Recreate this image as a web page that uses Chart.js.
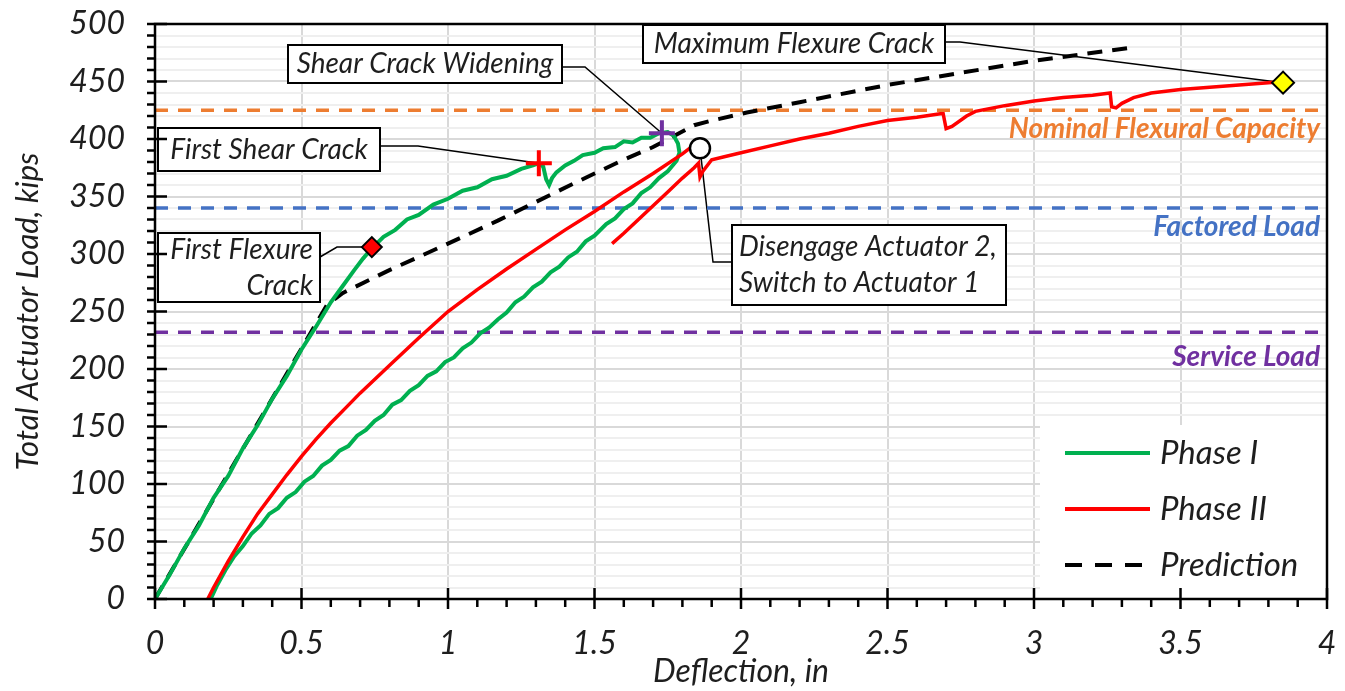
<!DOCTYPE html>
<html>
<head>
<meta charset="utf-8">
<script src="https://cdn.jsdelivr.net/npm/chart.js@4.4.1/dist/chart.umd.min.js"></script>
<style>
  html, body { margin: 0; padding: 0; background: #fff; }
</style>
</head>
<body>
<canvas id="load-deflection" width="1345" height="691"></canvas>
<script>
// measured curves: [deflection (in), total actuator load (kips)]
const phaseI = [
  [0,0],[0.05,21],[0.1,44],[0.15,64],[0.2,88],[0.25,107],[0.3,131],[0.35,151],[0.4,174],[0.45,194],
  [0.5,217],[0.55,237],[0.6,258],[0.64,272],[0.68,286],[0.71,296],[0.74,305],[0.78,315],[0.82,321],
  [0.86,330],[0.9,334],[0.95,343],[1.0,348],[1.05,355],[1.1,358],[1.15,365],[1.2,368],[1.25,374],
  [1.29,377],[1.31,379],[1.325,376],[1.335,365],[1.345,360],[1.355,366],[1.37,371],[1.4,377],
  [1.43,381],[1.46,386],[1.5,388],[1.53,392],[1.57,393],[1.6,398],[1.63,397],[1.66,401],[1.69,401],
  [1.72,405],[1.75,406],[1.77,403],[1.785,396],[1.79,388],[1.78,381],
  [1.75,372],[1.72,366],[1.69,358],[1.66,353],[1.63,344],[1.6,339],[1.57,331],[1.54,326],[1.5,316],
  [1.47,311],[1.44,302],[1.41,297],[1.38,289],[1.35,284],[1.32,276],[1.29,271],[1.26,263],[1.23,258],
  [1.2,249],[1.17,243],[1.14,236],[1.11,231],[1.08,223],[1.05,218],[1.02,210],[0.99,206],[0.96,198],
  [0.93,194],[0.9,186],[0.87,181],[0.84,173],[0.81,169],[0.78,160],[0.75,155],[0.72,147],[0.69,142],
  [0.66,133],[0.63,129],[0.6,121],[0.57,116],[0.54,107],[0.51,102],[0.48,93],[0.45,88],[0.42,79],
  [0.39,74],[0.36,64],[0.33,57],[0.3,46],[0.27,37],[0.24,25],[0.21,11],[0.19,0]
];

// null point = actuator switch, the line breaks there
const phaseII = [
  [0.18,0],[0.2,10],[0.25,33],[0.3,54],[0.35,74],[0.4,91],[0.45,108],[0.5,124],[0.55,139],[0.6,153],
  [0.65,166],[0.7,179],[0.8,203],[0.9,227],[1.0,250],[1.1,269],[1.2,287],[1.3,304],[1.4,321],
  [1.5,337],[1.6,354],[1.7,370],[1.8,387],[1.83,393],
  [1.7,null],
  [1.56,309],[1.6,318],[1.65,330],[1.7,342],[1.75,354],[1.8,366],[1.84,375],[1.855,379],[1.86,367],
  [1.87,372],[1.9,382],[1.95,385],[2.0,388],[2.1,394],[2.2,400],[2.3,405],[2.4,411],[2.5,416],
  [2.6,419],[2.68,422],[2.69,422],[2.7,409],[2.72,411],[2.77,420],[2.8,424],[2.9,429],[3.0,433],
  [3.1,436],[3.2,438],[3.26,440],[3.265,428],[3.28,427],[3.3,431],[3.34,436],[3.4,440],[3.5,443],
  [3.6,445],[3.7,447],[3.8,449],[3.85,450]
];

const prediction = [
  [0,0],[0.59,257],[0.62,262],[0.64,266],[0.8,286],[1.0,309],[1.17,329],[1.37,354],[1.5,370],
  [1.6,382],[1.7,393],[1.84,412],[1.9,416],[2.02,423],[2.2,432],[2.5,447],[2.88,463],[3.0,468],[3.32,479]
];

const refNames = ['Nominal Flexural Capacity', 'Factored Load', 'Service Load'];
const refLoads = [425, 340, 232];
const refRange = [0, 3.98];

const eventNames = ['First Flexure Crack', 'First Shear Crack', 'Shear Crack Widening',
  'Disengage Actuator 2, Switch to Actuator 1', 'Maximum Flexure Crack'];
const eventDefl = [0.74, 1.31, 1.73, 1.86, 3.85];
const eventLoad = [306, 379, 405, 392, 449];

const xTicks = { min: 0, max: 4, step: 0.1, labelEvery: 0.5 };
const yTicks = { min: 0, max: 500, step: 10, labelEvery: 50 };

const legendSeries = ['Phase I', 'Phase II', 'Prediction'];

// ---- styles / layout -------------------------------------------------
const toXY = arr => arr.map(p => ({ x: p[0], y: p[1] }));
const refColors = ['#ED7D31', '#4472C4', '#7030A0'];
const refLabelOffset = [19, 19, 25];
const txt = '#1e1e1e';
const italic = size => ({ family: 'Lato', style: 'italic', size: size });

const markerStyles = [
  { pointStyle: 'rectRot', radius: 10, bg: '#FF0000', border: '#000', bw: 2 },
  { pointStyle: 'cross', radius: 13, bg: '#FF0000', border: '#FF0000', bw: 4 },
  { pointStyle: 'cross', radius: 13, bg: '#7030A0', border: '#7030A0', bw: 4 },
  { pointStyle: 'circle', radius: 10, bg: '#fff', border: '#000', bw: 2.5 },
  { pointStyle: 'rectRot', radius: 11, bg: '#FFFF00', border: '#000', bw: 2 }
];

// callout boxes (pixels), leader goes from the box through the elbows to the event marker
const callouts = [
  { ev: 0, lines: ['First Flexure', 'Crack'], box: [158, 233, 320, 302], align: 'right', path: [[320, 257], [337, 247]] },
  { ev: 1, lines: ['First Shear Crack'], box: [158, 128, 380, 171], align: 'center', path: [[380, 146], [418, 146]] },
  { ev: 2, lines: ['Shear Crack Widening'], box: [288, 45, 562, 83], align: 'center', path: [[562, 67], [585, 67]] },
  { ev: 3, lines: ['Disengage Actuator 2,', 'Switch to Actuator 1'], box: [732, 225, 1006, 305], align: 'left', path: [[732, 262], [713, 262]] },
  { ev: 4, lines: ['Maximum Flexure Crack'], box: [643, 25, 945, 63], align: 'center', path: [[945, 42], [960, 42]] }
];

const datasets = [];

eventNames.forEach((name, i) => {
  const s = markerStyles[i];
  datasets.push({
    label: name, data: [{ x: eventDefl[i], y: eventLoad[i] }], showLine: false, order: 0,
    pointStyle: s.pointStyle, pointRadius: s.radius, pointBackgroundColor: s.bg,
    pointBorderColor: s.border, pointBorderWidth: s.bw
  });
});

datasets.push({ label: 'Phase I', data: toXY(phaseI), borderColor: '#00B050', borderWidth: 4, order: 2 });
datasets.push({ label: 'Phase II', data: toXY(phaseII), borderColor: '#FF0000', borderWidth: 3.5, order: 1, spanGaps: false });
datasets.push({ label: 'Prediction', data: toXY(prediction), borderColor: '#000', borderWidth: 4, borderDash: [15, 10], order: 3 });

refNames.forEach((name, i) => {
  datasets.push({
    label: name, data: refRange.map(x => ({ x: x, y: refLoads[i] })),
    borderColor: refColors[i], borderWidth: 3.5, borderDash: [13, 10], order: 10
  });
});

const decor = {
  id: 'decor',
  beforeDraw(chart) {
    const c = chart.ctx;
    c.save();
    c.fillStyle = '#fff';
    c.fillRect(0, 0, chart.width, chart.height);
    c.restore();
  },
  beforeDatasetsDraw(chart) {
    const c = chart.ctx, xs = chart.scales.x, ys = chart.scales.y;
    c.save();
    c.strokeStyle = '#000';
    c.lineWidth = 1.5;
    callouts.forEach(co => {
      c.beginPath();
      c.moveTo(co.path[0][0], co.path[0][1]);
      co.path.slice(1).forEach(p => c.lineTo(p[0], p[1]));
      c.lineTo(xs.getPixelForValue(eventDefl[co.ev]), ys.getPixelForValue(eventLoad[co.ev]));
      c.stroke();
    });
    c.restore();
  },
  afterDatasetsDraw(chart) {
    const c = chart.ctx, ys = chart.scales.y, area = chart.chartArea;
    c.save();

    // reference line labels
    c.font = 'italic bold 28px Lato';
    c.textAlign = 'right';
    c.textBaseline = 'middle';
    refNames.forEach((name, i) => {
      c.fillStyle = refColors[i];
      c.fillText(name, area.right - 7, ys.getPixelForValue(refLoads[i]) + refLabelOffset[i]);
    });

    // callout boxes
    c.font = 'italic 28px Lato';
    callouts.forEach(co => {
      const [l, t, r, b] = co.box;
      c.fillStyle = '#fff';
      c.fillRect(l, t, r - l, b - t);
      c.strokeStyle = '#000';
      c.lineWidth = 2;
      c.strokeRect(l, t, r - l, b - t);
      c.fillStyle = txt;
      c.textAlign = co.align;
      const lh = 36, y0 = (t + b) / 2 - (co.lines.length - 1) * lh / 2;
      const x = co.align === 'left' ? l + 7 : co.align === 'right' ? r - 7 : (l + r) / 2;
      co.lines.forEach((ln, k) => c.fillText(ln, x, y0 + k * lh));
    });

    // legend inside the plot, bottom right
    const lx = area.right - 287, ly = area.bottom - 174;
    c.fillStyle = '#fff';
    c.fillRect(lx, ly, area.right - lx, area.bottom - ly);
    c.font = 'italic 33px Lato';
    c.textAlign = 'left';
    legendSeries.forEach((name, k) => {
      const ds = chart.data.datasets.find(d => d.label === name);
      const yy = ly + 28 + k * 56;
      c.strokeStyle = ds.borderColor;
      c.lineWidth = 4;
      c.setLineDash(ds.borderDash ? [17, 13] : []);
      c.beginPath();
      c.moveTo(lx + 25, yy);
      c.lineTo(lx + 110, yy);
      c.stroke();
      c.setLineDash([]);
      c.fillStyle = txt;
      c.fillText(name, lx + 120, yy);
    });
    c.restore();
  },
  afterDraw(chart) {
    const c = chart.ctx, xs = chart.scales.x, ys = chart.scales.y, area = chart.chartArea;
    c.save();
    c.strokeStyle = '#000';
    c.lineWidth = 2.5;
    c.strokeRect(area.left, area.top, area.right - area.left, area.bottom - area.top);
    c.beginPath();
    ys.ticks.forEach(t => {
      const py = ys.getPixelForValue(t.value);
      const major = Math.round(t.value) % yTicks.labelEvery === 0;
      c.moveTo(area.left - 8, py);
      c.lineTo(area.left + (major ? 12 : 1), py);
    });
    xs.ticks.forEach(t => {
      const px = xs.getPixelForValue(t.value);
      const major = Math.round(t.value * 10) % 5 === 0;
      c.moveTo(px, area.bottom + (major ? 10 : 8));
      c.lineTo(px, area.bottom - (major ? 11 : 1));
    });
    c.stroke();
    c.restore();
  }
};

new Chart(document.getElementById('load-deflection').getContext('2d'), {
  type: 'scatter',
  data: { datasets: datasets },
  options: {
    responsive: false,
    animation: false,
    showLine: true,
    elements: { point: { radius: 0, hoverRadius: 0 }, line: { tension: 0, fill: false } },
    layout: { padding: { top: 24, right: 18, left: 0, bottom: 0 } },
    scales: {
      x: {
        type: 'linear', min: xTicks.min, max: xTicks.max,
        afterFit: s => { s.height = 92; s.paddingLeft = 0; s.paddingRight = 0; },
        border: { display: false },
        grid: {
          drawTicks: false, lineWidth: 2,
          color: ctx => Math.round(ctx.tick.value * 10) % 5 === 0 ? '#d9d9d9' : 'rgba(0,0,0,0)'
        },
        ticks: {
          stepSize: xTicks.step, autoSkip: false, maxRotation: 0, padding: 25,
          color: txt, font: italic(32),
          callback: v => Math.round(v * 10) % 5 === 0 ? String(Math.round(v * 10) / 10) : ''
        },
        title: { display: true, text: 'Deflection, in', color: txt, font: italic(32), padding: { top: 0, bottom: 0 } }
      },
      y: {
        type: 'linear', min: yTicks.min, max: yTicks.max,
        afterFit: s => { s.width = 155; s.paddingTop = 0; s.paddingBottom = 0; },
        border: { display: false },
        grid: {
          drawTicks: false, lineWidth: 2,
          color: ctx => Math.round(ctx.tick.value) % yTicks.labelEvery === 0 ? '#d9d9d9' : '#efefef'
        },
        ticks: {
          stepSize: yTicks.step, autoSkip: false, padding: 30,
          color: txt, font: italic(32),
          callback: v => Math.round(v) % yTicks.labelEvery === 0 ? String(v) : ''
        },
        title: { display: true, text: 'Total Actuator Load, kips', color: txt, font: italic(31), padding: { top: 9, bottom: 0 } }
      }
    },
    plugins: {
      legend: { display: false },
      tooltip: { enabled: false }
    }
  },
  plugins: [decor]
});
</script>
</body>
</html>
